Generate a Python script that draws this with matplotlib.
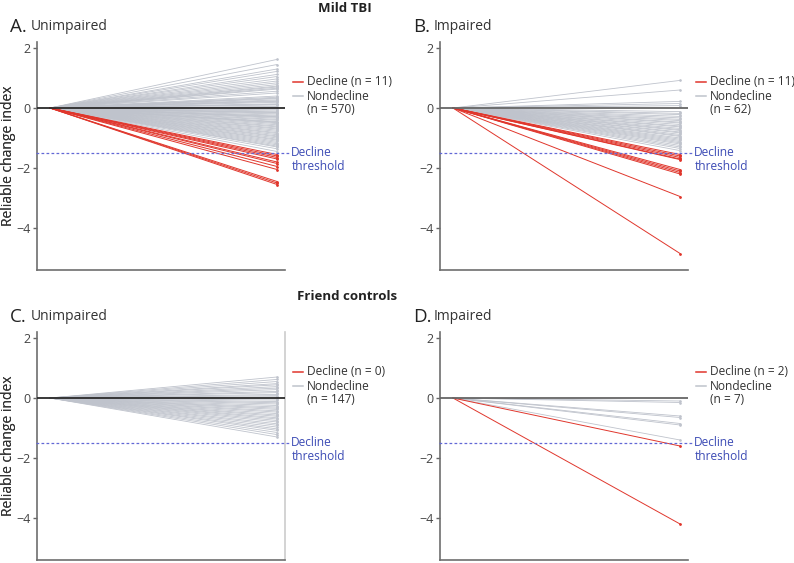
import matplotlib
matplotlib.use("Agg")
import matplotlib.pyplot as plt

plt.rcParams['font.family'] = ['Open Sans', 'DejaVu Sans']

# endpoint values of the reliable change index (start is always 0)
a_nondecline = [1.62, 1.45, 1.3, 1.22, 1.12, 1.05, 0.97, 0.9, 0.84, 0.78, 0.73, 0.7, 0.66, 0.63,
                0.56, 0.5, 0.4, 0.36, 0.33, 0.31, 0.27, 0.24, 0.22, 0.19, 0.14, 0.12, 0.1, 0.05,
                0.02, -0.03, -0.06, -0.1, -0.13, -0.15, -0.17, -0.2, -0.24, -0.27, -0.29,
                -0.31, -0.34, -0.38, -0.41, -0.45, -0.47, -0.49, -0.52, -0.56, -0.6, -0.63,
                -0.67, -0.7, -0.74, -0.78, -0.82, -0.85, -0.89, -0.93, -0.96, -1.0, -1.04,
                -1.07, -1.11, -1.15, -1.19, -1.23, -1.27, -1.3, -1.36, -1.45]
a_decline = [-1.55, -1.6, -1.65, -1.7, -1.8, -1.85, -1.95, -2.05, -2.45, -2.5, -2.55]

b_nondecline = [0.92, 0.6, 0.22, 0.15, 0.08, -0.12, -0.18, -0.22, -0.28, -0.33, -0.38, -0.42,
                -0.47, -0.5, -0.55, -0.6, -0.63, -0.68, -0.72, -0.75, -0.8, -0.83, -0.88,
                -0.92, -0.95, -1.0, -1.04, -1.08, -1.12, -1.16, -1.2, -1.25, -1.3, -1.35, -1.42]
b_decline = [-1.55, -1.6, -1.65, -1.7, -1.72, -2.05, -2.1, -2.15, -2.2, -2.95, -4.85]

c_nondecline = [0.7, 0.62, 0.55, 0.48, 0.44, 0.38, 0.33, 0.28, 0.22, 0.18, 0.12, 0.08, 0.04,
                -0.03, -0.07, -0.12, -0.16, -0.2, -0.25, -0.3, -0.34, -0.38, -0.43, -0.47,
                -0.52, -0.57, -0.61, -0.66, -0.7, -0.75, -0.8, -0.86, -0.91, -0.97, -1.03,
                -1.08, -1.15, -1.22, -1.3]
c_decline = []

d_nondecline = [-0.1, -0.15, -0.6, -0.65, -0.85, -0.9, -1.4]
d_decline = [-1.6, -4.2]

panel_letters = ["A.", "B.", "C.", "D."]
panel_titles = ["Unimpaired", "Impaired", "Unimpaired", "Impaired"]
decline_n = [11, 11, 0, 2]
nondecline_n = [570, 62, 147, 7]
group_titles = ["Mild TBI", "Friend controls"]

THRESHOLD = -1.5
RED = '#e0362c'
GRAY = '#bfc3cc'
BLUE = '#6268d6'
W, H = 794, 563

fig = plt.figure(figsize=(W / 100, H / 100), dpi=100)


def draw_panel(rect, gray_vals, red_vals, letter, title, n_dec, n_non,
               zero_color='#2a2a2a', right_spine=False):
    ax = fig.add_axes(rect)
    for v in gray_vals:
        ax.plot([0, 1], [0, v], color=GRAY, lw=0.6, marker='o', markersize=0.9,
                markevery=[1], zorder=2)
    for v in red_vals:
        ax.plot([0, 1], [0, v], color=RED, lw=0.7, marker='o', markersize=1.0,
                markevery=[1], zorder=3)
    ax.axhline(0, color=zero_color, lw=1.3, zorder=4)
    ax.plot([-0.06, 1.055], [THRESHOLD, THRESHOLD], color=BLUE, lw=0.9, ls=(0, (2.2, 1.8)),
            clip_on=False, zorder=4)

    ax.set_xlim(-0.057, 1.035)
    ax.set_ylim(-5.4, 2.2)
    ax.set_xticks([])
    ax.set_yticks([2, 0, -2, -4])
    ax.set_yticklabels(['2', '0', '\u22122', '\u22124'])
    ax.tick_params(axis='y', length=3, width=1, color='#666666', labelcolor='#444444',
                   labelsize=9, pad=1.5)
    for s in ['left', 'bottom']:
        ax.spines[s].set_color('#6e6e6e')
        ax.spines[s].set_linewidth(1.2)
    ax.spines['top'].set_visible(False)
    if right_spine:
        ax.spines['right'].set_color('#cccccc')
        ax.spines['right'].set_linewidth(1.2)
    else:
        ax.spines['right'].set_visible(False)

    # legend drawn as text beside the panel
    ax.plot([1.07, 1.115], [0.88, 0.88], color=RED, lw=1.1, clip_on=False)
    ax.text(1.13, 0.88, f"Decline (n = {n_dec})", fontsize=8.6, color='#333333',
            va='center', ha='left')
    ax.plot([1.07, 1.115], [0.4, 0.4], color=GRAY, lw=1.1, clip_on=False)
    ax.text(1.13, 0.4, "Nondecline", fontsize=8.6, color='#333333', va='center', ha='left')
    ax.text(1.13, -0.06, f"(n = {n_non})", fontsize=8.6, color='#333333',
            va='center', ha='left')
    ax.text(1.063, THRESHOLD, "Decline", fontsize=8.6, color='#3d4cb5', va='center', ha='left')
    ax.text(1.063, THRESHOLD - 0.45, "threshold", fontsize=8.6, color='#3d4cb5',
            va='center', ha='left')

    # panel heading
    x0, y1 = rect[0], rect[1] + rect[3]
    fig.text(x0 - 27 / W, y1 + 15 / H, letter, fontsize=13.5, color='#222222',
             ha='left', va='center')
    fig.text(x0 - 6 / W, y1 + 15 / H, title, fontsize=10, color='#333333',
             ha='left', va='center')
    fig.text(9 / W, rect[1] + rect[3] / 2, "Reliable change index", rotation=90,
             fontsize=10, color='#333333', ha='center', va='center')
    return ax


aw, ah = 248 / W, 228 / H
rects = [
    [37 / W, 1 - 270 / H, aw, ah],
    [440 / W, 1 - 270 / H, aw, ah],
    [37 / W, 1 - 560 / H, aw, ah],
    [440 / W, 1 - 560 / H, aw, ah],
]
gray_sets = [a_nondecline, b_nondecline, c_nondecline, d_nondecline]
red_sets = [a_decline, b_decline, c_decline, d_decline]
zero_colors = ['#2a2a2a', '#666666', '#2a2a2a', '#666666']

for i in range(4):
    draw_panel(rects[i], gray_sets[i], red_sets[i], panel_letters[i], panel_titles[i],
               decline_n[i], nondecline_n[i], zero_color=zero_colors[i],
               right_spine=(i == 2))

fig.text(345 / W, 1 - 9 / H, group_titles[0], fontsize=9.5, fontweight='bold',
         color='#222222', ha='center', va='center')
fig.text(347 / W, 1 - 297 / H, group_titles[1], fontsize=9.5, fontweight='bold',
         color='#222222', ha='center', va='center')

fig.savefig("out.png", dpi=100)
